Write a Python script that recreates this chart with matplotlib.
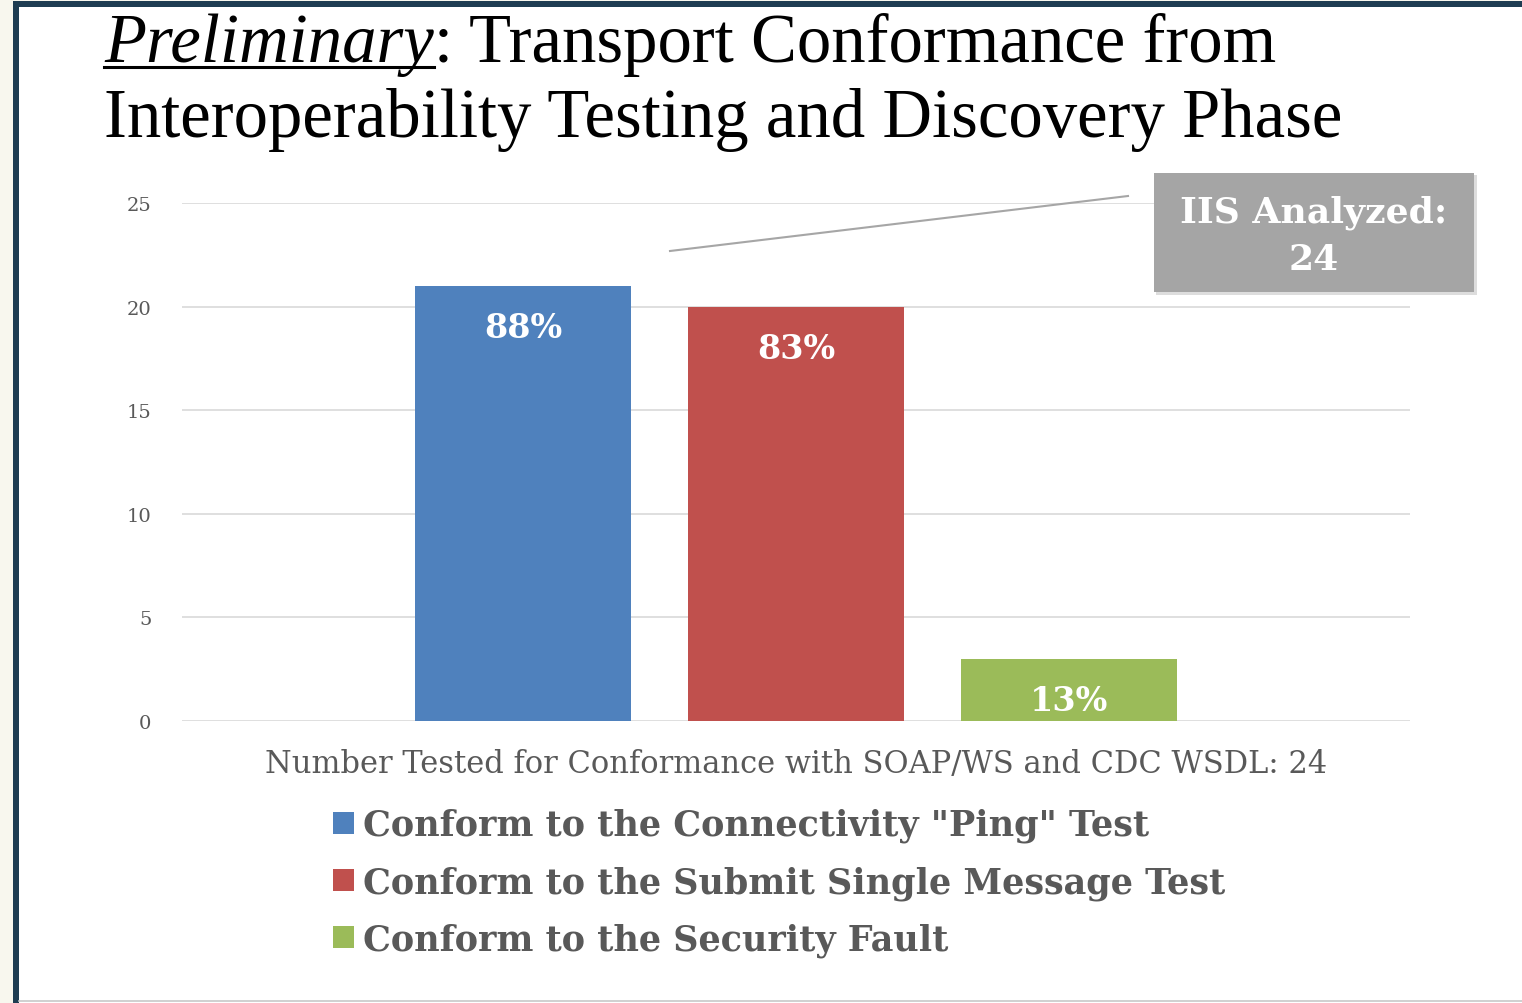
import matplotlib.pyplot as plt
from matplotlib.patches import Rectangle
from matplotlib.lines import Line2D
import numpy as np

series = ['Conform to the Connectivity "Ping" Test',
          'Conform to the Submit Single Message Test',
          'Conform to the Security Fault']
counts = [21, 20, 3]
pct_labels = ['88%', '83%', '13%']
colors = ['#4f81bd', '#c0504d', '#9bbb59']
n_tested = 24
n_analyzed = 24
yticks = [0, 5, 10, 15, 20, 25]

W, H = 1522, 1004
fig = plt.figure(figsize=(W / 100, H / 100), dpi=100)
fig.patch.set_facecolor('white')


def fx(px):
    return px / W


def fy(py):
    return 1 - py / H


# slide frame: cream margin + dark navy border
fig.patches.append(Rectangle((0, 0), fx(13), 1, transform=fig.transFigure,
                             facecolor='#f8f7ee', edgecolor='none', zorder=0))
fig.patches.append(Rectangle((0, fy(2)), 1, fy(0) - fy(2), transform=fig.transFigure,
                             facecolor='#f8f7ee', edgecolor='none', zorder=0))
fig.patches.append(Rectangle((fx(13), 0), fx(6), fy(2), transform=fig.transFigure,
                             facecolor='#1e3d52', edgecolor='none', zorder=1))
fig.patches.append(Rectangle((fx(13), fy(8)), 1, fy(2) - fy(8), transform=fig.transFigure,
                             facecolor='#1e3d52', edgecolor='none', zorder=1))
fig.lines.append(Line2D([fx(19), 1], [fy(1002), fy(1002)], transform=fig.transFigure,
                        color='#c8c8c8', lw=1.2))

serif_title = 'Liberation Serif'
serif = 'DejaVu Serif'
title_size = 49.5

# title
t1 = fig.text(fx(104), fy(62), 'Preliminary', family=serif_title, style='italic',
              fontsize=title_size, color='black', va='baseline')
fig.canvas.draw()
bb = t1.get_window_extent()
fig.lines.append(Line2D([bb.x0 / W, bb.x1 / W], [fy(68), fy(68)], transform=fig.transFigure,
                        color='black', lw=2.2))
fig.text(bb.x1 / W, fy(62), ': Transport Conformance from', family=serif_title,
         fontsize=title_size, color='black', va='baseline')
fig.text(fx(104), fy(137), 'Interoperability Testing and Discovery Phase',
         family=serif_title, fontsize=title_size, color='black', va='baseline')

# axes
ax = fig.add_axes([fx(182), fy(722), fx(1410) - fx(182), fy(204) - fy(722)])
ax.set_ylim(0, 25)
ax.set_xlim(-0.5, 0.5)
step = 273 / 1228
width = 216 / 1228
x = (np.arange(len(counts)) - 1) * step
bars = ax.bar(x, counts, width=width, color=colors, label=series, zorder=3)

for xi, c, lab in zip(x, counts, pct_labels):
    ax.annotate(lab, (xi, c), xytext=(0, -30), textcoords='offset points',
                ha='center', va='center', color='white', fontsize=24,
                fontweight='bold', family=serif, zorder=4)

ax.set_yticks(yticks)
ax.set_xticks([])
ax.yaxis.grid(True, color='#d9d9d9', lw=1.2, zorder=0)
ax.tick_params(axis='y', length=0, pad=22, labelsize=14, labelcolor='#595959')
for lbl in ax.get_yticklabels():
    lbl.set_family(serif)
for s in ax.spines.values():
    s.set_visible(False)

fig.text(fx(796), fy(765), f'Number Tested for Conformance with SOAP/WS and CDC WSDL: {n_tested}',
         family=serif, fontsize=22, color='#595959', ha='center', va='center')

leg = ax.legend(handles=bars.patches, labels=series, loc='upper left',
                bbox_to_anchor=(fx(333), fy(809)), bbox_transform=fig.transFigure,
                frameon=False, handlelength=0.59, handleheight=0.59, handletextpad=0.26,
                labelspacing=0.65, borderpad=0, borderaxespad=0,
                prop={'family': serif, 'weight': 'bold', 'size': 25.2})
for t in leg.get_texts():
    t.set_color('#595959')

# callout box
fig.lines.append(Line2D([fx(670), fx(1128)], [fy(252), fy(197)], transform=fig.transFigure,
                        color='#a6a6a6', lw=1.5))
fig.patches.append(Rectangle((fx(1156), fy(296)), fx(321), fy(176) - fy(296),
                             transform=fig.transFigure, facecolor='#cfcfcf',
                             edgecolor='none', alpha=0.7, zorder=4))
fig.patches.append(Rectangle((fx(1154), fy(293)), fx(320), fy(174) - fy(293),
                             transform=fig.transFigure, facecolor='#a5a5a5',
                             edgecolor='none', zorder=5))
fig.text(fx(1314), fy(236), f'IIS Analyzed:\n{n_analyzed}', family=serif, fontsize=26,
         fontweight='bold', color='white', ha='center', va='center',
         linespacing=1.5, zorder=6)

fig.savefig('out.png', dpi=100)
